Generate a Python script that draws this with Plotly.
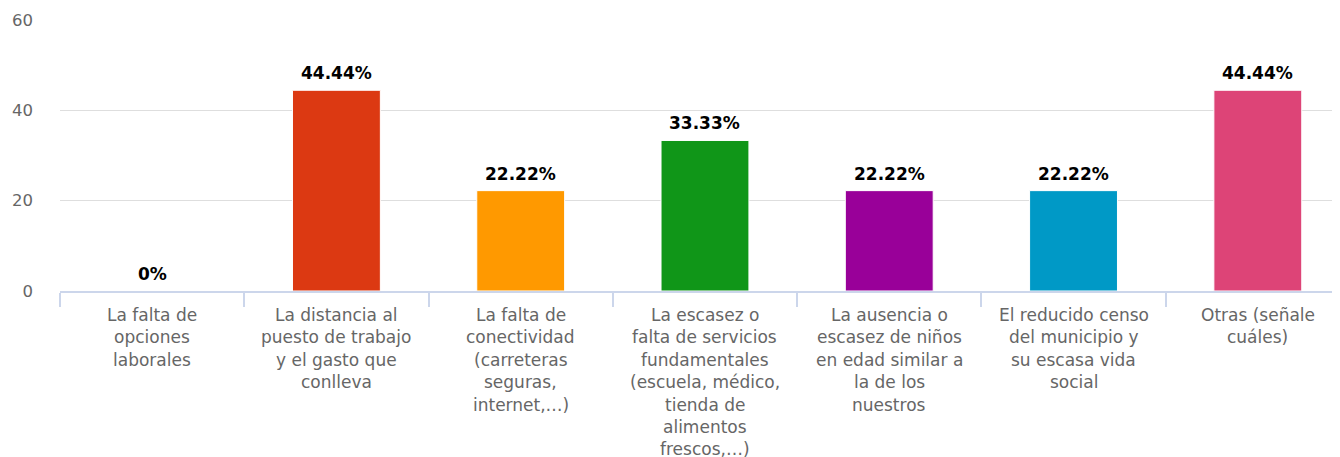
import plotly.graph_objects as go

categories = [
    "La falta de<br>opciones<br>laborales",
    "La distancia al<br>puesto de trabajo<br>y el gasto que<br>conlleva",
    "La falta de<br>conectividad<br>(carreteras<br>seguras,<br>internet,…)",
    "La escasez o<br>falta de servicios<br>fundamentales<br>(escuela, médico,<br>tienda de<br>alimentos<br>frescos,…)",
    "La ausencia o<br>escasez de niños<br>en edad similar a<br>la de los<br>nuestros",
    "El reducido censo<br>del municipio y<br>su escasa vida<br>social",
    "Otras (señale<br>cuáles)",
]
values = [0, 44.44, 22.22, 33.33, 22.22, 22.22, 44.44]
value_labels = ["0%", "44.44%", "22.22%", "33.33%", "22.22%", "22.22%", "44.44%"]
colors = ["#3366CC", "#DC3912", "#FF9900", "#109618", "#990099", "#0099C6", "#DD4477"]
y_ticks = [0, 20, 40, 60]

x_idx = list(range(len(categories)))

fig = go.Figure()
fig.add_trace(go.Bar(
    x=x_idx, y=values,
    marker=dict(color=colors, line=dict(color="white", width=1)),
    width=0.477,
    cliponaxis=False, hoverinfo="skip",
))

annotations = []
for i, (v, t) in enumerate(zip(values, value_labels)):
    annotations.append(dict(
        x=i, xref="x", y=v, yref="y", yanchor="bottom", xanchor="center",
        text="<b>" + t + "</b>", showarrow=False, yshift=5,
        font=dict(family="DejaVu Sans", size=17, color="black"),
    ))
for i, lab in enumerate(categories):
    for j, line in enumerate(lab.split("<br>")):
        annotations.append(dict(
            x=i, xref="x", y=0, yref="paper", yanchor="top", xanchor="center",
            text=line, showarrow=False, yshift=-12 - j * 22.4,
            font=dict(family="DejaVu Sans", size=17, color="#666666"),
        ))

fig.update_layout(
    width=1332, height=449,
    margin=dict(l=52, r=0, t=12, b=166),
    plot_bgcolor="white", paper_bgcolor="white",
    showlegend=False, annotations=annotations,
    font=dict(family="DejaVu Sans"),
)
fig.update_xaxes(
    type="linear", range=[-0.5, 6.446], tickvals=[i - 0.5 for i in x_idx] + [6.5],
    showticklabels=False, ticks="outside", ticklen=14, tickcolor="#ccd6eb", tickwidth=1.5,
    showgrid=False, showline=True, linecolor="#ccd6eb", linewidth=1.5, zeroline=False,
)
fig.update_yaxes(
    range=[0, 60], tickvals=y_ticks, showgrid=True, gridcolor="#dedede", gridwidth=1,
    zeroline=False, showline=False,
    tickfont=dict(family="DejaVu Sans", size=16.5, color="#666666"),
    ticklabelstandoff=26,
)

fig.write_html("out.html")
